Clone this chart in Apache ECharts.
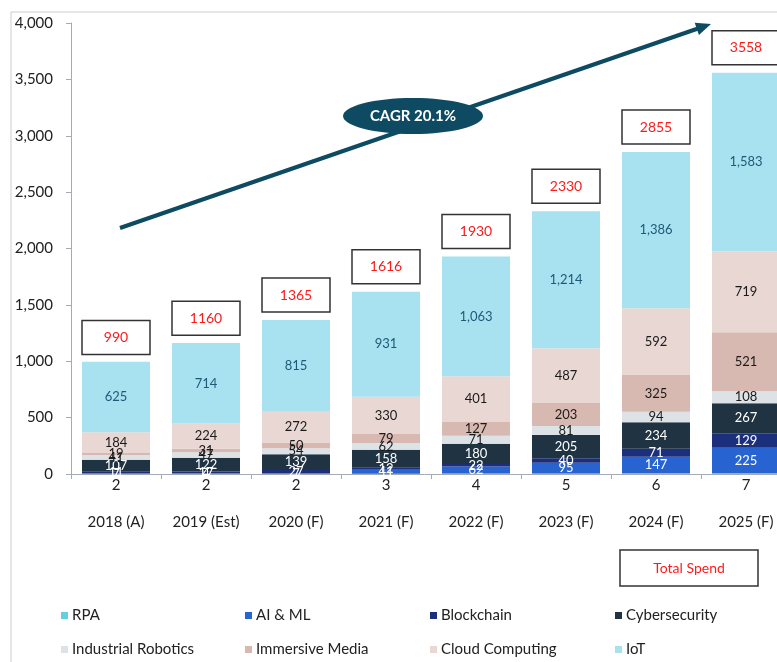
<!DOCTYPE html>
<html>
<head>
<meta charset="utf-8">
<script src="https://cdn.jsdelivr.net/npm/echarts@6/dist/echarts.min.js"></script>
<style>
html,body{margin:0;padding:0;background:#fff;}
#chart{width:777px;height:662px;}
</style>
</head>
<body>
<div id="chart"></div>
<script>
const years = ['2018 (A)','2019 (Est)','2020 (F)','2021 (F)','2022 (F)','2023 (F)','2024 (F)','2025 (F)'];
const rpa = [2,2,2,3,4,5,6,7];
const aiml = [7,4,7,41,62,95,147,225];
const blockchain = [11,17,27,12,22,40,71,129];
const cyber = [107,122,139,158,180,205,234,267];
const robotics = [41,47,54,62,71,81,94,108];
const media = [19,31,50,79,127,203,325,521];
const cloud = [184,224,272,330,401,487,592,719];
const iot = [625,714,815,931,1063,1214,1386,1583];
const totals = [990,1160,1365,1616,1930,2330,2855,3558];
const cagrText = 'CAGR 20.1%';
const totalLegendText = 'Total Spend';

const FONT = 'Lato, "Open Sans", sans-serif';
const fmt = v => Number(v).toLocaleString('en-US');

const seriesDefs = [
  {name:'RPA', data:rpa, color:'#63cfe4', label:null},
  {name:'AI & ML', data:aiml, color:'#2763d1', label:'#ffffff'},
  {name:'Blockchain', data:blockchain, color:'#1c2f7d', label:'#ffffff'},
  {name:'Cybersecurity', data:cyber, color:'#1f3342', label:'#ffffff'},
  {name:'Industrial Robotics', data:robotics, color:'#dde2e6', label:'#1a1a1a'},
  {name:'Immersive Media', data:media, color:'#d8b9b1', label:'#1a1a1a'},
  {name:'Cloud Computing', data:cloud, color:'#e8d7d3', label:'#1a1a1a'},
  {name:'IoT', data:iot, color:'#a8e1ef', label:'#1d5a78'}
];

const series = seriesDefs.map(d => ({
  name: d.name,
  type: 'bar',
  stack: 'total',
  barWidth: 68,
  data: d.data,
  itemStyle: {color: d.color},
  label: d.label ? {
    show: true, position: 'inside', color: d.label,
    fontFamily: FONT, fontSize: 13,
    formatter: p => fmt(p.value)
  } : {show:false},
  emphasis: {disabled: true}
}));

series.push({
  name: 'Total',
  type: 'custom',
  data: totals.map((v,i)=>[i,v]),
  z: 10,
  clip: false,
  renderItem: function(params, api){
    const i = api.value(0);
    const v = api.value(1);
    const p = api.coord([i, v]);
    const w = 68, h = 34;
    return {
      type: 'group',
      children: [
        {type:'rect', shape:{x:p[0]-w/2, y:p[1]-8-h, width:w, height:h},
         style:{fill:'#ffffff', stroke:'#333333', lineWidth:1.5}},
        {type:'text', style:{text:String(v), x:p[0], y:p[1]-8-h/2, align:'center', verticalAlign:'middle',
          fill:'#ff1a1a', fontSize:14, fontFamily:FONT}}
      ]
    };
  }
});

const legendPos = [
  [56,603],[240,603],[425,603],[610,603],
  [56,637],[240,637],[425,637],[610,637]
];
const legends = seriesDefs.map((d,i)=>({
  data:[d.name],
  left: legendPos[i][0], top: legendPos[i][1],
  icon:'rect', itemWidth:7, itemHeight:7, itemGap:4,
  selectedMode:false,
  textStyle:{fontFamily:FONT, fontSize:15, color:'#222', padding:[0,0,0,-1]}
}));

// arrow geometry
const T = [711,24], S = [120,228];
const dx = T[0]-S[0], dy = T[1]-S[1], L = Math.hypot(dx,dy);
const ux = dx/L, uy = dy/L, nx = -uy, ny = ux;
const hl = 15, hw = 6.5;
const B = [T[0]-hl*ux, T[1]-hl*uy];

const option = {
  animation: false,
  textStyle: {fontFamily: FONT},
  grid: {left:71, top:23, width:720, height:451, containLabel:false, outerBoundsMode:'none'},
  legend: legends,
  xAxis: {
    type:'category',
    data: years,
    axisLine:{lineStyle:{color:'#a3abb6', width:1}},
    axisTick:{show:true, interval:0, length:5, lineStyle:{color:'#a3abb6'}},
    axisLabel:{
      interval:0, margin:3,
      formatter: function(val, idx){ return '{n|' + rpa[idx] + '}\n{y|' + val + '}'; },
      rich:{
        n:{fontFamily:FONT, fontSize:15, color:'#222', lineHeight:16},
        y:{fontFamily:FONT, fontSize:15, color:'#222', lineHeight:58}
      }
    }
  },
  yAxis: {
    type:'value', min:0, max:4000, interval:500,
    axisLine:{show:true, lineStyle:{color:'#a3abb6'}},
    axisTick:{show:true, length:5, lineStyle:{color:'#a3abb6'}},
    splitLine:{show:false},
    axisLabel:{margin:18, fontFamily:FONT, fontSize:15, color:'#222',
      formatter: v => fmt(v)}
  },
  series: series,
  graphic: [
    {type:'rect', z:-10, shape:{x:11, y:12, width:820, height:700}, style:{fill:'none', stroke:'#c9ced4', lineWidth:1}},
    {type:'line', z:50, shape:{x1:S[0], y1:S[1], x2:B[0]+ux*2, y2:B[1]+uy*2}, style:{stroke:'#0e4b63', lineWidth:4}},
    {type:'polygon', z:50, shape:{points:[T,[B[0]+hw*nx,B[1]+hw*ny],[B[0]-hw*nx,B[1]-hw*ny]]}, style:{fill:'#0e4b63'}},
    {type:'ellipse', z:51, shape:{cx:413, cy:116, rx:70, ry:18}, style:{fill:'#0e4b63'}},
    {type:'text', z:52, style:{text:cagrText, x:413, y:116, align:'center', verticalAlign:'middle', fill:'#ffffff', fontSize:15, fontWeight:'bold', fontFamily:FONT}},
    {type:'rect', z:50, shape:{x:620, y:550, width:138, height:36}, style:{fill:'#ffffff', stroke:'#333333', lineWidth:1.5}},
    {type:'text', z:51, style:{text:totalLegendText, x:689, y:568, align:'center', verticalAlign:'middle', fill:'#ff1a1a', fontSize:14, fontFamily:FONT}}
  ]
};

const chart = echarts.init(document.getElementById('chart'), null, {renderer:'canvas'});
chart.setOption(option);
</script>
</body>
</html>
